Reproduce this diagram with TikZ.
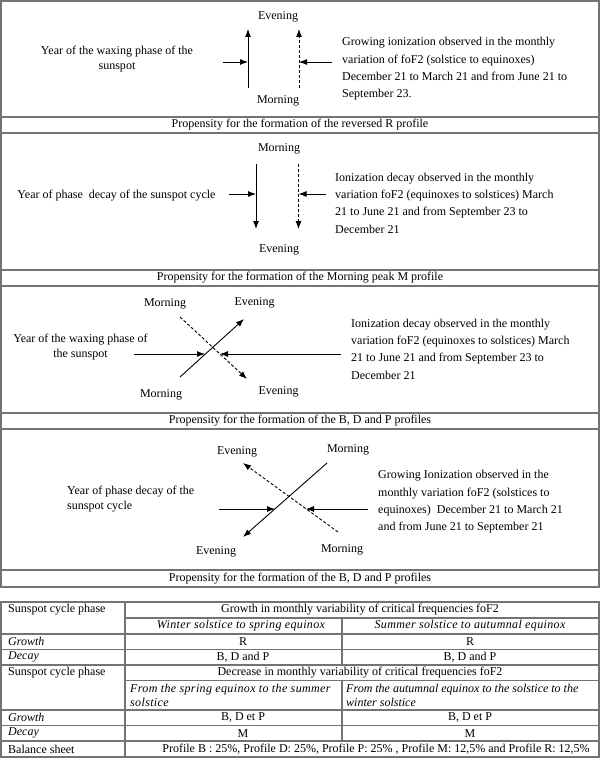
\documentclass[tikz,border=0pt]{standalone}
\usepackage{fontspec}
\setmainfont{Liberation Serif}
\usetikzlibrary{arrows.meta}

\begin{document}
\begin{tikzpicture}[x=1pt,y=-1pt,
  frame/.style={draw=black!55, line width=1.1pt},
  lbl/.style={font=\fontsize{12}{14.5}\selectfont, inner sep=0pt},
  txt/.style={font=\fontsize{12}{17.3}\selectfont, align=left, anchor=west, inner sep=0pt},
  arr/.style={-{Latex[length=8pt,width=6pt]}, line width=0.9pt},
  darr/.style={arr, dash pattern=on 3pt off 2pt},
  cell/.style={font=\fontsize{12}{14}\selectfont, inner sep=0pt},
  lcell/.style={cell, anchor=west, align=left},
  icell/.style={cell, font=\fontsize{12}{14}\selectfont\itshape\addfontfeature{LetterSpace=3}}]
\useasboundingbox (0,0) rectangle (600,765);
\draw[frame] (1,1) rectangle (599,587);
\foreach \y in {117,133,270,286,413,429,570} \draw[frame] (1,\y) -- (599,\y);
\node[lbl] (ev1) at (278,17) {Evening};
\node[lbl] (mo1) at (278,101) {Morning};
\coordinate (a1s) at (248,88); \coordinate (a1e) at (248,29);
\coordinate (b1s) at (299,88); \coordinate (b1e) at (299,29);
\draw[arr] (a1s) -- (a1e);
\draw[darr] (b1s) -- (b1e);
\node[lbl, align=center] (yr1) at (117,59) {Year of the waxing phase of the\\sunspot};
\node[txt] (io1) at (342,69) {Growing ionization observed in the monthly\\variation of foF2 (solstice to equinoxes)\\December 21 to March 21 and from June 21 to\\September 23.};
\coordinate (l1) at (223,62); \coordinate (r1) at (332,62);
\draw[arr] (l1) -- (a1s |- l1);
\draw[arr] (r1) -- (b1s |- r1);
\node[lbl] (cap1) at (300,125) {Propensity for the formation of the reversed R profile};
\node[lbl] (mo2) at (279,149) {Morning};
\node[lbl] (ev2) at (279,250) {Evening};
\coordinate (a2s) at (256,164); \coordinate (a2e) at (256,229);
\coordinate (b2s) at (298.5,164); \coordinate (b2e) at (298.5,229);
\draw[arr] (a2s) -- (a2e);
\draw[darr] (b2s) -- (b2e);
\node[lbl] (yr2) at (116.5,196) {Year of phase\ \ decay of the sunspot cycle};
\node[txt] (io2) at (335,203) {Ionization decay observed in the monthly\\variation foF2 (equinoxes to solstices) March\\21 to June 21 and from September 23 to\\December 21};
\coordinate (l2) at (229,194); \coordinate (r2) at (326,194);
\draw[arr] (l2) -- (a2s |- l2);
\draw[arr] (r2) -- (b2s |- r2);
\node[lbl] (cap2) at (300,278) {Propensity for the formation of the Morning peak M profile};
\node[lbl] (mo3a) at (165,304) {Morning};
\node[lbl] (ev3a) at (254.5,303) {Evening};
\node[lbl] (mo3b) at (161,395) {Morning};
\node[lbl] (ev3b) at (278.5,392) {Evening};
\coordinate (a3s) at (180,377); \coordinate (a3e) at (244,319);
\coordinate (b3s) at (180,317); \coordinate (b3e) at (247,379);
\draw[arr] (a3s) -- (a3e);
\draw[darr] (b3s) -- (b3e);
\node[lbl, align=center] (yr3) at (80.5,347) {Year of the waxing phase of\\the sunspot};
\node[txt] (io3) at (351,349) {Ionization decay observed in the monthly\\variation foF2 (equinoxes to solstices) March\\21 to June 21 and from September 23 to\\December 21};
\coordinate (l3) at (134,354); \coordinate (r3) at (341,354);
\coordinate (m3a) at (205,354); \coordinate (m3b) at (220,354);
\draw[arr] (l3) -- (m3a);
\draw[arr] (r3) -- (m3b);
\node[lbl] (cap3) at (300,421) {Propensity for the formation of the B, D and P profiles};
\node[lbl] (ev4a) at (237,452) {Evening};
\node[lbl] (mo4a) at (348,450) {Morning};
\node[lbl] (ev4b) at (216,552) {Evening};
\node[lbl] (mo4b) at (342,550) {Morning};
\coordinate (a4s) at (327,463); \coordinate (a4e) at (243,537);
\coordinate (b4s) at (338,532); \coordinate (b4e) at (243,463);
\draw[arr] (a4s) -- (a4e);
\draw[darr] (b4s) -- (b4e);
\node[lbl, align=left, anchor=west] (yr4) at (67,499) {Year of phase decay of the\\sunspot cycle};
\node[txt] (io4) at (378,502) {Growing Ionization observed in the\\monthly variation foF2 (solstices to\\equinoxes)\ \ December 21 to March 21\\and from June 21 to September 21};
\coordinate (l4) at (219,509); \coordinate (r4) at (368,509);
\coordinate (m4a) at (275,509); \coordinate (m4b) at (306,509);
\draw[arr] (l4) -- (m4a);
\draw[arr] (r4) -- (m4b);
\node[lbl] (cap4) at (300,578.5) {Propensity for the formation of the B, D and P profiles};
\draw[frame] (1,602) rectangle (599,757);
\draw[frame] (125,602) -- (125,757);
\draw[frame] (125,618) -- (599,618);
\draw[frame] (1,634) -- (599,634);
\draw[frame] (1,649.5) -- (599,649.5);
\draw[frame] (1,665) -- (599,665);
\draw[frame] (125,680.5) -- (599,680.5);
\draw[frame] (1,710) -- (599,710);
\draw[frame] (1,725.5) -- (599,725.5);
\draw[frame] (1,741) -- (599,741);
\draw[frame] (342,618) -- (342,665);
\draw[frame] (342,680.5) -- (342,741);
\node[lcell] (ph1) at (8,610) {Sunspot cycle phase};
\node[cell] (gr0) at (360,610) {Growth in monthly variability of critical frequencies foF2};
\node[icell] (win) at (241,626) {Winter solstice to spring equinox};
\node[icell] (sum) at (470,626) {Summer solstice to autumnal equinox};
\node[lcell] (gr1) at (8,641.7) {\itshape Growth};
\node[cell] (r1a) at (243,641.7) {R};
\node[cell] (r1b) at (470,641.7) {R};
\node[lcell] (dc1) at (8,657.2) {\itshape Decay};
\node[cell] (p1a) at (243,657.2) {B, D and P};
\node[cell] (p1b) at (470,657.2) {B, D and P};
\node[lcell] (ph2) at (8,672.7) {Sunspot cycle phase};
\node[cell] (dc0) at (360,672.7) {Decrease in monthly variability of critical frequencies foF2};
\node[icell, anchor=west, align=left] (spr) at (130,695.2) {From the spring equinox to the summer\\solstice};
\node[lcell] (aut) at (346,695.2) {\itshape From the autumnal equinox to the solstice to the\\\itshape winter solstice};
\node[lcell] (gr2) at (8,717.7) {\itshape Growth};
\node[cell] (p2a) at (243,717.7) {B, D et P};
\node[cell] (p2b) at (470,717.7) {B, D et P};
\node[lcell] (dc2) at (8,733.2) {\itshape Decay};
\node[cell] (m2a) at (243,733.2) {M};
\node[cell] (m2b) at (470,733.2) {M};
\node[lcell] (bal) at (8,749) {Balance sheet};
\node[cell] (tot) at (376,749) {Profile B : 25\%, Profile D: 25\%, Profile P: 25\% , Profile M: 12,5\% and Profile R: 12,5\%};
\end{tikzpicture}
\end{document}
